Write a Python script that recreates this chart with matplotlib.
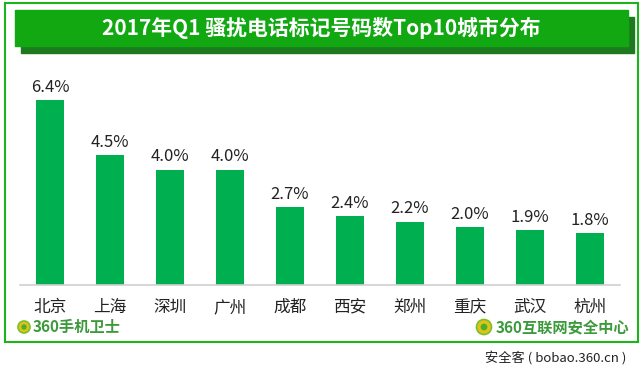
import matplotlib.pyplot as plt
from matplotlib.patches import Rectangle, Ellipse

plt.rcParams['font.family'] = ['Noto Sans CJK SC', 'DejaVu Sans']

cities = ['北京', '上海', '深圳', '广州', '成都', '西安', '郑州', '重庆', '武汉', '杭州']
shares = [6.4, 4.5, 4.0, 4.0, 2.7, 2.4, 2.2, 2.0, 1.9, 1.8]
title = '2017年Q1 骚扰电话标记号码数Top10城市分布'

W, H = 641, 376
fig = plt.figure(figsize=(W / 100, H / 100), dpi=100)


def px(x, y, w, h):
    # pixel box (top-left origin) -> figure fraction
    return (x / W, 1 - (y + h) / H, w / W, h / H)


# outer green frame
x0, y0, w0, h0 = px(5, 3, 633, 339)
fig.patches.append(Rectangle((x0, y0), w0, h0, transform=fig.transFigure,
                             fill=False, edgecolor='#1db31d', lw=1.5))

# title banner with shadow
sx, sy, sw, sh = px(21, 17, 613, 36)
fig.patches.append(Rectangle((sx, sy), sw, sh, transform=fig.transFigure,
                             color='#1e7a1e', zorder=1))
bx, by, bw, bh = px(15, 10, 613, 36)
fig.patches.append(Rectangle((bx, by), bw, bh, transform=fig.transFigure,
                             color='#12a812', zorder=2))
fig.text(bx + bw / 2, by + bh / 2, title, color='white', fontsize=15,
         fontweight='bold', ha='center', va='center', zorder=3)

# bar chart
ax = fig.add_axes(px(20, 83, 600, 202))
pos = range(len(cities))
ax.bar(pos, shares, width=0.47, color='#00b050', zorder=2)
for i, v in enumerate(shares):
    ax.annotate('%.1f%%' % v, (i, v), xytext=(0, 3), textcoords='offset points',
                ha='center', va='bottom', fontsize=12, color='#222222')
ax.set_xlim(-0.5, len(cities) - 0.5)
ax.set_ylim(0, 7)
ax.set_xticks(list(pos))
ax.set_xticklabels(cities, fontsize=12, color='#222222')
ax.tick_params(axis='x', length=0, pad=10)
ax.set_yticks([])
for s in ['top', 'left', 'right']:
    ax.spines[s].set_visible(False)
ax.spines['bottom'].set_color('#d0d0d0')
ax.spines['bottom'].set_linewidth(1.2)
ax.patch.set_alpha(0)


# logos
def logo(cx, cy, r, text, tx, size):
    e = Ellipse((cx / W, 1 - cy / H), 2 * r / W, 2 * r / H,
                transform=fig.transFigure, facecolor='#e0c21a',
                edgecolor='#7cbf2a', lw=1.2)
    fig.patches.append(e)
    e2 = Ellipse((cx / W, 1 - cy / H), 0.9 * r / W, 0.9 * r / H,
                 transform=fig.transFigure, facecolor='#4caf2a', edgecolor='none')
    fig.patches.append(e2)
    fig.text(tx / W, 1 - cy / H, text, color='#3c9a3c', fontsize=size,
             fontweight='bold', ha='left', va='center')


logo(24, 327, 6, '360手机卫士', 33, 11)
logo(484, 327, 7.5, '360互联网安全中心', 496, 11)

fig.text(626 / W, 1 - 358 / H, '安全客 ( bobao.360.cn )', fontsize=9.5,
         color='#222222', ha='right', va='center')

fig.savefig('out.png', dpi=100)
